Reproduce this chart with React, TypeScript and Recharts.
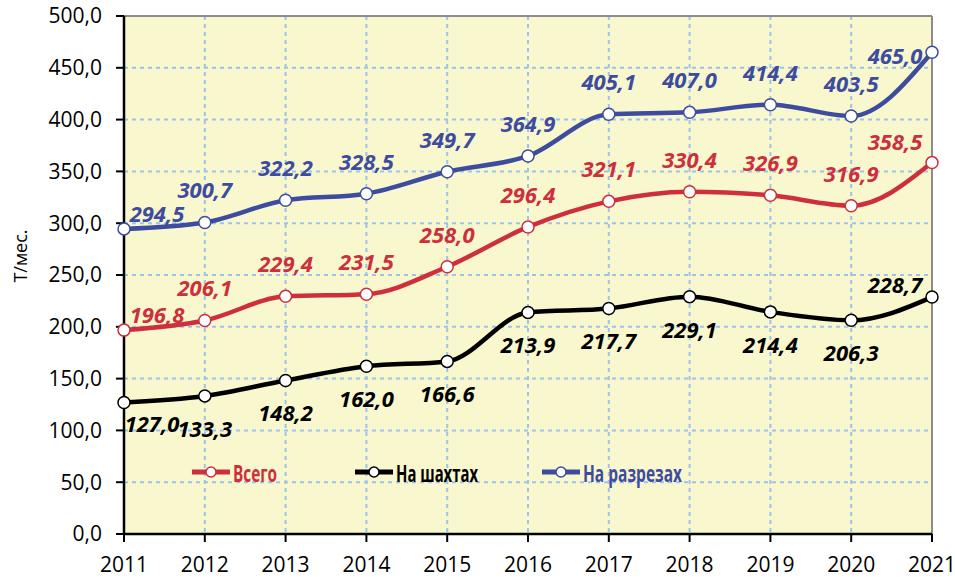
import React from 'react'
import { LineChart, Line, XAxis, YAxis, CartesianGrid, LabelList, ReferenceLine } from 'recharts'

// production per month, thousand t
const years = ['2011', '2012', '2013', '2014', '2015', '2016', '2017', '2018', '2019', '2020', '2021']
const total = [196.8, 206.1, 229.4, 231.5, 258.0, 296.4, 321.1, 330.4, 326.9, 316.9, 358.5]
const mines = [127.0, 133.3, 148.2, 162.0, 166.6, 213.9, 217.7, 229.1, 214.4, 206.3, 228.7]
const opencast = [294.5, 300.7, 322.2, 328.5, 349.7, 364.9, 405.1, 407.0, 414.4, 403.5, 465.0]
const yTicks = [0, 50, 100, 150, 200, 250, 300, 350, 400, 450, 500]

const RED = '#CD2F3D'
const BLUE = '#3D4C9E'
const BLACK = '#000000'
const FONT = '"Open Sans", "Noto Sans", sans-serif'

const data = years.map((year, i) => ({ year, total: total[i], mines: mines[i], opencast: opencast[i] }))

const fmt = (v: number) => v.toFixed(1).replace('.', ',')

function makeLabel(color: string, side: 'above' | 'below', endDy: number) {
  return (props: any) => {
    const { x, y, value, index } = props
    let dx = 0
    let dy = side === 'above' ? -33 : 32
    if (index === 0) {
      dx = side === 'above' ? 33 : 28
      dy = side === 'above' ? -16 : 21
    }
    if (index === years.length - 1) {
      dx = -37
      dy = endDy
    }
    return (
      <text
        x={x + dx}
        y={y + dy}
        fill={color}
        textAnchor="middle"
        dominantBaseline="central"
        fontFamily={FONT}
        fontWeight={700}
        fontStyle="italic"
        fontSize={22}
      >
        {fmt(Number(value))}
      </text>
    )
  }
}

const legendItems = [
  { name: 'Всего', color: RED, x: 192, w: 44 },
  { name: 'На шахтах', color: BLACK, x: 355, w: 82 },
  { name: 'На разрезах', color: BLUE, x: 542, w: 99 },
]

function ChartLegend() {
  return (
    <svg width={955} height={40} style={{ position: 'absolute', left: 0, top: 452 }}>
      {legendItems.map((it) => (
        <g key={it.name}>
          <line x1={it.x} x2={it.x + 38} y1={20} y2={20} stroke={it.color} strokeWidth={5} />
          <circle cx={it.x + 19} cy={20} r={5} fill="#fff" stroke={it.color} strokeWidth={1.5} />
          <text
            x={it.x + 41}
            y={21}
            dominantBaseline="central"
            fill={it.color}
            fontFamily={FONT}
            fontWeight={700}
            fontSize={23}
            textLength={it.w}
            lengthAdjust="spacingAndGlyphs"
          >
            {it.name}
          </text>
        </g>
      ))}
    </svg>
  )
}

const dot = (color: string) => ({ r: 6, fill: '#fff', stroke: color, strokeWidth: 1.5 })

export default function App() {
  return (
    <div style={{ position: 'absolute', left: 0, top: 0, width: 955, height: 585, background: '#fff' }}>
      <LineChart width={955} height={585} data={data} margin={{ top: 16, right: 23, bottom: 0, left: 0 }}>
        <CartesianGrid stroke="#9DC3EC" strokeDasharray="4 4" strokeWidth={2} fill="#F9F7CE" fillOpacity={1} />
        <XAxis
          dataKey="year"
          height={51}
          tickSize={8}
          tickMargin={15}
          tick={{ fontSize: 21, fill: '#000', fontFamily: FONT }}
          axisLine={{ stroke: '#000', strokeWidth: 2.5 }}
          tickLine={{ stroke: '#000', strokeWidth: 2 }}
        />
        <YAxis
          width={124}
          domain={[0, 500]}
          ticks={yTicks}
          interval={0}
          tickSize={8}
          tickMargin={14}
          tickFormatter={fmt}
          tick={{ fontSize: 21, fill: '#000', fontFamily: FONT }}
          axisLine={{ stroke: '#000', strokeWidth: 2.5 }}
          tickLine={{ stroke: '#000', strokeWidth: 2 }}
          label={{
            content: () => (
              <text
                x={20}
                y={256}
                transform="rotate(-90 20 256)"
                textAnchor="middle"
                dominantBaseline="central"
                fontFamily={FONT}
                fontSize={18}
                fill="#000"
              >
                Т/мес.
              </text>
            ),
          }}
        />
        <ReferenceLine y={500} stroke="#8C8C8C" strokeWidth={2} />
        <ReferenceLine x="2021" stroke="#8C8C8C" strokeWidth={2} />
        <Line type="monotone" dataKey="total" name="Всего" stroke={RED} strokeWidth={4.5} dot={dot(RED)} activeDot={false} isAnimationActive={false}>
          <LabelList dataKey="total" content={makeLabel(RED, 'above', -22)} />
        </Line>
        <Line type="monotone" dataKey="mines" name="На шахтах" stroke={BLACK} strokeWidth={4.5} dot={dot(BLACK)} activeDot={false} isAnimationActive={false}>
          <LabelList dataKey="mines" content={makeLabel(BLACK, 'below', -13)} />
        </Line>
        <Line type="monotone" dataKey="opencast" name="На разрезах" stroke={BLUE} strokeWidth={4.5} dot={dot(BLUE)} activeDot={false} isAnimationActive={false}>
          <LabelList dataKey="opencast" content={makeLabel(BLUE, 'above', 3)} />
        </Line>
      </LineChart>
      <ChartLegend />
    </div>
  )
}
